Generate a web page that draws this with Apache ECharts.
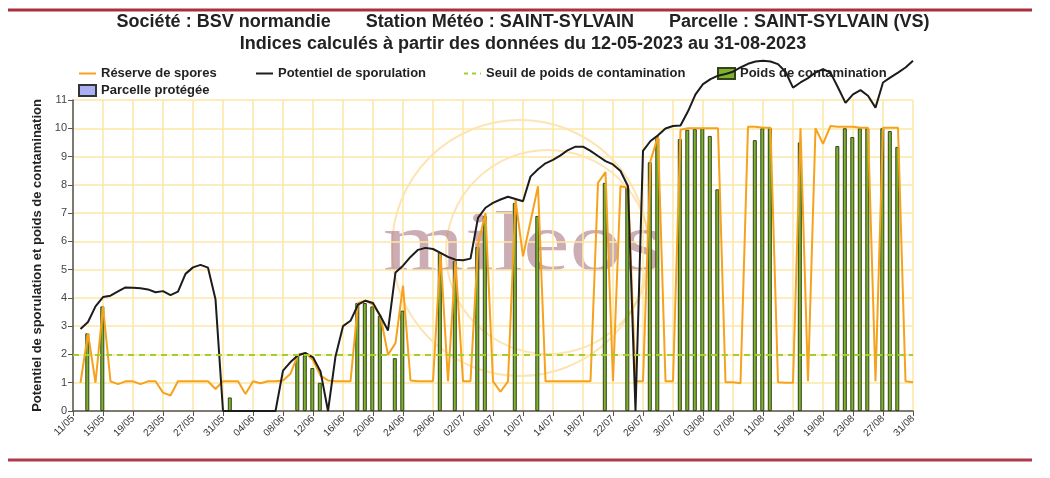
<!DOCTYPE html>
<html>
<head>
<meta charset="utf-8">
<script src="https://cdn.jsdelivr.net/npm/echarts@6/dist/echarts.min.js"></script>
<style>
  html, body { margin: 0; padding: 0; background: #fff; }
  #chart { width: 1050px; height: 478px; }
</style>
</head>
<body>
<div id="chart"></div>
<script>
// mileos - indices mildiou, Saint-Sylvain 2023

// axis days: 11/05 -> 31/08 (first point is empty, data starts 12/05)
const START = new Date(2023, 4, 11);
const NB_DAYS = 113;
const jours = [];
for (let i = 0; i < NB_DAYS; i++) {
    const d = new Date(START.getTime() + i * 86400000);
    jours.push(String(d.getDate()).padStart(2, '0') + '/' + String(d.getMonth() + 1).padStart(2, '0'));
}

// Potentiel de sporulation, 12/05 -> 31/08
const potentiel = [
    2.9, 3.15, 3.7, 4.03, 4.08, 4.23, 4.37, 4.36, 4.34, 4.3,
    4.2, 4.24, 4.1, 4.22, 4.85, 5.08, 5.17, 5.07, 3.95, 0,
    0, 0, 0, 0, 0, 0, 0, 1.43, 1.73, 1.97,
    2.05, 1.9, 1.4, 0, 1.93, 3.0, 3.19, 3.76, 3.9, 3.82,
    3.35, 2.85, 4.9, 5.14, 5.45, 5.7, 5.77, 5.73, 5.59, 5.45,
    5.35, 5.33, 5.39, 6.83, 7.19, 7.36, 7.48, 7.58, 7.5, 7.42,
    8.29, 8.55, 8.76, 8.88, 9.04, 9.23, 9.35, 9.35, 9.2, 9.02,
    8.84, 8.72, 8.49, 7.95, 0, 9.2, 9.55, 9.75, 9.99, 10.08,
    10.1, 10.6, 11.2, 11.56, 11.74, 11.86, 11.92, 12.0, 12.15, 12.28,
    12.36, 12.39, 12.36, 12.27, 12.0, 11.44, 11.62, 11.77, 11.97, 12.09,
    11.97, 11.44, 10.9, 11.2, 11.35, 11.15, 10.73, 11.62, 11.8, 11.97,
    12.15, 12.39
];

// Réserve de spores, 12/05 -> 31/08
const reserve = [
    1.0, 2.75, 1.0, 3.7, 1.05, 0.95, 1.05, 1.05, 0.95, 1.05,
    1.05, 0.65, 0.55, 1.05, 1.05, 1.05, 1.05, 1.05, 0.78, 1.05,
    1.05, 1.05, 0.6, 1.05, 0.98, 1.05, 1.05, 1.08, 1.32, 1.99,
    2.05, 1.8, 1.25, 1.08, 1.05, 1.05, 1.05, 3.82, 3.9, 3.76,
    3.35, 1.99, 2.4, 4.43, 1.08, 1.05, 1.05, 1.05, 5.6, 1.05,
    5.3, 1.05, 1.05, 5.9, 7.0, 1.05, 0.68, 1.05, 7.48, 5.47,
    6.7, 7.95, 1.05, 1.05, 1.05, 1.05, 1.05, 1.05, 1.05, 8.07,
    8.45, 1.05, 7.95, 7.9, 1.05, 1.05, 8.84, 9.73, 1.05, 1.05,
    9.95, 10.0, 10.0, 10.0, 10.0, 10.0, 1.02, 1.02, 0.98, 10.05,
    10.05, 10.02, 10.02, 1.02, 1.0, 1.0, 10.0, 1.05, 10.0, 9.45,
    10.08, 10.05, 10.05, 10.05, 10.02, 10.02, 1.05, 10.02, 10.02, 10.02,
    1.05, 1.02
];

// Poids de contamination (only days with a value)
const poids = [
    ['13/05', 2.75], ['15/05', 3.7], ['01/06', 0.48],
    ['10/06', 2.0], ['11/06', 1.97], ['12/06', 1.52], ['13/06', 1.0],
    ['18/06', 3.82], ['19/06', 3.82], ['20/06', 3.7], ['21/06', 3.37],
    ['23/06', 1.87], ['24/06', 3.55], ['29/06', 5.6], ['01/07', 5.3],
    ['04/07', 5.8], ['05/07', 6.9], ['09/07', 7.36], ['12/07', 6.9],
    ['21/07', 8.07], ['24/07', 7.9], ['27/07', 8.8], ['28/07', 9.65],
    ['31/07', 9.62], ['01/08', 9.95], ['02/08', 9.97], ['03/08', 10.0],
    ['04/08', 9.73], ['05/08', 7.84], ['10/08', 9.58], ['11/08', 10.0],
    ['12/08', 10.0], ['16/08', 9.5], ['21/08', 9.37], ['22/08', 10.0],
    ['23/08', 9.69], ['24/08', 10.0], ['25/08', 10.0], ['27/08', 10.0],
    ['28/08', 9.9], ['29/08', 9.34]
];

const parcelleProtegee = [];
const SEUIL = 2;

const FONT = '"Liberation Sans", Arial, sans-serif';

const chart = echarts.init(document.getElementById('chart'));

const legendText = { color: '#222', fontWeight: 'bold', fontSize: 13, fontFamily: FONT };
function legendAt(name, left, top, isLine) {
    const lg = {
        data: [name], left: left, top: top, padding: 0,
        itemWidth: 17, itemHeight: 11,
        textStyle: legendText, selectedMode: false
    };
    if (isLine) {
        lg.itemStyle = { opacity: 0 };
    } else {
        lg.icon = 'rect';
    }
    return lg;
}

const option = {
    animation: false,
    textStyle: { fontFamily: FONT },
    title: {
        text: 'Société : BSV normandie       Station Météo : SAINT-SYLVAIN       Parcelle : SAINT-SYLVAIN (VS)\nIndices calculés à partir des données du 12-05-2023 au 31-08-2023',
        left: 518, top: 6, textAlign: 'center',
        textStyle: { fontSize: 18, fontWeight: 'bold', color: '#222', lineHeight: 22, fontFamily: FONT }
    },
    legend: [
        legendAt('Réserve de spores', 78, 67, true),
        legendAt('Potentiel de sporulation', 255, 67, true),
        legendAt('Seuil de poids de contamination', 463, 67, true),
        legendAt('Poids de contamination', 717, 67, false),
        legendAt('Parcelle protégée', 78, 84, false)
    ],
    grid: { left: 73, right: 137, top: 100, bottom: 67 },
    xAxis: {
        type: 'category',
        data: jours,
        boundaryGap: false,
        axisLine: { lineStyle: { color: '#555', width: 1.5 } },
        axisTick: { interval: 3, length: 5, lineStyle: { color: '#555' } },
        axisLabel: { interval: 3, rotate: 45, fontSize: 10, color: '#333', margin: 6 },
        splitLine: { show: true, interval: 3, lineStyle: { color: '#fde7a6', width: 1.5 } }
    },
    yAxis: {
        type: 'value',
        min: 0, max: 11, interval: 1,
        name: 'Potentiel de sporulation et poids de contamination',
        nameLocation: 'middle',
        nameGap: 28,
        nameTextStyle: { fontWeight: 'bold', fontSize: 13, color: '#222' },
        axisLine: { show: true, lineStyle: { color: '#555', width: 1.5 } },
        axisTick: { show: true, length: 5, lineStyle: { color: '#555' } },
        axisLabel: { fontSize: 11, color: '#444', margin: 6 },
        splitLine: { lineStyle: { color: '#fde7a6', width: 1.5 } }
    },
    graphic: [
        { type: 'line', shape: { x1: 8, y1: 10, x2: 1032, y2: 10 }, style: { stroke: '#a8303e', lineWidth: 3 } },
        { type: 'line', shape: { x1: 8, y1: 460, x2: 1032, y2: 460 }, style: { stroke: '#b13a48', lineWidth: 3 } },
        { type: 'circle', shape: { cx: 520, cy: 248, r: 128 }, style: { fill: 'none', stroke: 'rgba(248,196,90,0.45)', lineWidth: 2 }, z: 0 },
        { type: 'circle', shape: { cx: 548, cy: 252, r: 102 }, style: { fill: 'none', stroke: 'rgba(248,196,90,0.45)', lineWidth: 2 }, z: 0 },
        {
            type: 'text', left: 383, top: 206, z: 0, scaleX: 1.25,
            style: { text: 'mileos', font: '84px "Liberation Serif", serif', fill: 'rgba(172,122,134,0.62)' }
        }
    ],
    series: [
        {
            name: 'Poids de contamination',
            type: 'bar',
            data: poids,
            barWidth: 4,
            itemStyle: { color: '#7cb22e', borderColor: '#34431a', borderWidth: 1 },
            z: 2
        },
        {
            name: 'Parcelle protégée',
            type: 'bar',
            data: parcelleProtegee,
            itemStyle: { color: '#aab0f2', borderColor: '#333', borderWidth: 1 }
        },
        {
            name: 'Réserve de spores',
            type: 'line',
            data: [null].concat(reserve),
            symbol: 'none',
            lineStyle: { color: '#f7a21e', width: 2 },
            itemStyle: { color: '#f7a21e' },
            z: 3
        },
        {
            name: 'Potentiel de sporulation',
            type: 'line',
            data: [null].concat(potentiel),
            symbol: 'none',
            clip: false,
            lineStyle: { color: '#1c1c1c', width: 2 },
            itemStyle: { color: '#1c1c1c' },
            z: 4
        },
        {
            name: 'Seuil de poids de contamination',
            type: 'line',
            data: [],
            symbol: 'none',
            lineStyle: { color: '#9fd02e', width: 2, type: [4, 4] },
            itemStyle: { color: '#9fd02e' },
            markLine: {
                silent: true,
                symbol: 'none',
                label: { show: false },
                lineStyle: { color: '#9fd02e', width: 2, type: [6, 5] },
                data: [{ yAxis: SEUIL }]
            },
            z: 3
        }
    ]
};

chart.setOption(option);
</script>
</body>
</html>
